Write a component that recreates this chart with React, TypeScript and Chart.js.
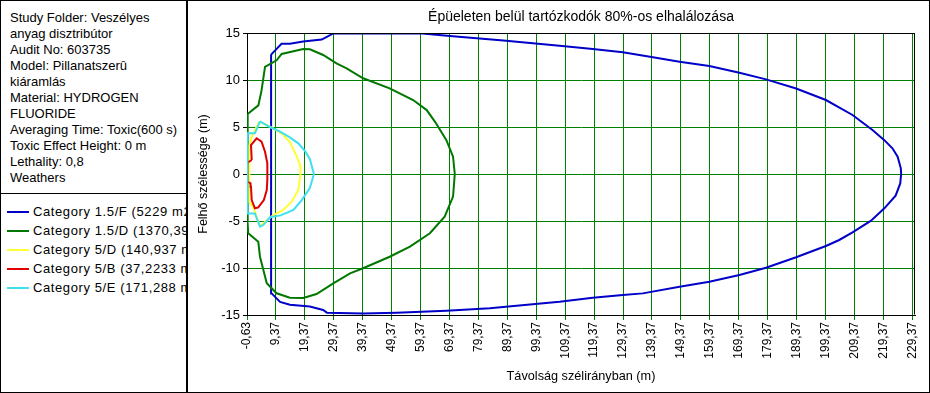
import React, { useEffect, useRef } from "react";
import { Chart, registerables } from "chart.js";

Chart.register(...registerables);

const FONT = 'Arial, "Liberation Sans", sans-serif';

const infoLines = [
  "Study Folder: Veszélyes",
  "anyag disztribútor",
  "Audit No: 603735",
  "Model: Pillanatszerû",
  "kiáramlás",
  "Material: HYDROGEN",
  "FLUORIDE",
  "Averaging Time: Toxic(600 s)",
  "Toxic Effect Height: 0 m",
  "Lethality: 0,8",
  "Weathers",
];

const chartTitle = "Épüeleten belül tartózkodók 80%-os elhalálozása";
const xTitle = "Távolság szélirányban (m)";
const yTitle = "Felhő szélessége (m)";

const seriesLabels = [
  "Category 1.5/F (5229 m2)",
  "Category 1.5/D (1370,39 m2)",
  "Category 5/D (140,937 m2)",
  "Category 5/B (37,2233 m2)",
  "Category 5/E (171,288 m2)",
];
const seriesColors = ["#0000C8", "#007800", "#FFFF33", "#E00000", "#3FE0F0"];

const xMin = -0.63;
const xMax = 230.3;
const xTickValues = [
  -0.63, 9.37, 19.37, 29.37, 39.37, 49.37, 59.37, 69.37, 79.37, 89.37, 99.37, 109.37,
  119.37, 129.37, 139.37, 149.37, 159.37, 169.37, 179.37, 189.37, 199.37, 209.37, 219.37, 229.37,
];
const yMin = -15;
const yMax = 15;

// Category 1.5/F
const cat15F: [number, number][] = [
  [7.7, 12.7], [11.3, 13.85], [14.2, 13.85], [18.8, 14.1], [25.2, 14.3], [29.2, 14.95],
  [60, 14.95], [69.5, 14.68], [88, 14.2], [107.4, 13.65], [118.9, 13.3], [129.3, 12.94],
  [139.7, 12.41], [148.9, 11.95], [159.2, 11.49], [169.6, 10.78], [178.8, 10.07],
  [189.2, 9.1], [199.5, 7.87], [208.7, 6.28], [215.6, 4.68], [219.7, 3.6], [222.5, 2.73],
  [224.3, 1.84], [225.4, 0.6], [225.5, 0], [225.2, -1.0], [223.6, -2.3], [219.7, -3.65],
  [215.1, -4.97], [208.7, -6.2], [204.1, -7.02], [199.5, -7.66], [189.2, -8.86],
  [178.8, -9.97], [169.6, -10.74], [159.2, -11.46], [148.9, -11.99], [136.2, -12.7],
  [129.3, -12.87], [118.9, -13.16], [107.4, -13.59], [83.3, -14.29], [68.3, -14.54],
  [51.1, -14.75], [39.5, -14.85], [27, -14.75], [25.7, -14.47], [21.1, -14.1],
  [14.2, -13.9], [10.8, -13.6], [7.9, -12.7], [7.7, 12.7],
];

// Category 1.5/D
const cat15D: [number, number][] = [
  [-0.3, 6.4], [3.3, 7.3], [4.4, 8.9], [5.6, 11.4], [9.6, 12.1], [11.35, 12.77],
  [18.8, 13.3], [21.1, 13.26], [25.7, 12.66], [30.3, 11.77], [33.8, 11.24], [39.5, 10.18],
  [48.7, 9.11], [56.8, 7.87], [61.5, 6.8], [64.5, 5.5], [68.3, 3.6], [70.6, 1.84],
  [71.2, 0], [70.6, -2.4], [67.7, -4.54], [62.6, -6.3], [55.7, -7.73], [48.7, -8.8],
  [39.5, -10.03], [35, -10.57], [29.2, -11.63], [23.4, -12.77], [18.8, -13.2],
  [14.2, -13.16], [9.6, -12.69], [6.2, -11.63], [3.86, -8.8], [3.27, -7.2], [-0.2, -6.3],
  [-0.5, -4.9], [-0.5, 5.0], [-0.3, 6.4],
];

// Category 5/D
const cat5D: [number, number][] = [
  [3.6, 5.57], [7.3, 5.03], [11.35, 4.33], [14.2, 3.4], [16.5, 1.9], [17.7, 1.0],
  [17.9, 0], [17.1, -1.7], [14.8, -2.95], [11.9, -3.83], [8.45, -4.36], [5.0, -5.25],
  [3.86, -5.53], [1.5, -3.5], [0.2, -3.0], [0.2, 3.0], [1.0, 3.97], [3.6, 5.57],
];

// Category 5/B
const cat5B: [number, number][] = [
  [1.0, 1.49], [0.75, 3.08], [2.7, 3.8], [4.4, 3.44], [5.6, 2.37], [6.4, 1.14],
  [6.4, -0.64], [6.2, -1.7], [5.2, -2.77], [3.27, -3.55], [2.1, -3.65], [1.0, -2.77],
  [0.75, -1.35], [0.6, -1.0], [-0.5, -0.8], [-0.5, 1.2], [1.0, 1.49],
];

// Category 5/E
const cat5E: [number, number][] = [
  [3.86, 5.6], [7.3, 5.0], [10.8, 4.5], [14.2, 3.9], [17.1, 3.26], [19.5, 2.4],
  [21.1, 1.6], [22.5, 0], [21.1, -1.5], [18.3, -2.77], [15.4, -3.83], [11.0, -4.4],
  [7.3, -4.6], [5.0, -5.43], [3.86, -5.6], [2.1, -4.2], [-0.5, -4.2], [-0.5, 4.33],
  [2.1, 4.33], [3.86, 5.6],
];

const seriesData = [cat15F, cat15D, cat5D, cat5B, cat5E];

const fmtTick = (v: number) => v.toFixed(2).replace(".", ",");

const framePlugin = {
  id: "frame",
  afterDraw(chart: any) {
    const { ctx, chartArea } = chart;
    const l = Math.round(chartArea.left) + 0.5;
    const r = Math.round(chartArea.right) - 0.5;
    const t = Math.round(chartArea.top) + 0.5;
    const b = Math.round(chartArea.bottom) - 0.5;
    ctx.save();
    ctx.strokeStyle = "#000";
    ctx.lineWidth = 1;
    ctx.beginPath();
    ctx.moveTo(l, t);
    ctx.lineTo(r, t);
    ctx.lineTo(r, b);
    ctx.stroke();
    ctx.restore();
  },
};

function ContourChart() {
  const ref = useRef<HTMLCanvasElement | null>(null);
  useEffect(() => {
    if (!ref.current) return;
    const datasets = seriesData.map((pts, i) => ({
      label: seriesLabels[i],
      data: pts.map(([x, y]) => ({ x, y })),
      borderColor: seriesColors[i],
      backgroundColor: seriesColors[i],
      borderWidth: 2,
      pointRadius: 0,
      showLine: true,
      fill: false,
      tension: 0,
      order: seriesData.length - i,
    }));
    const chart = new Chart(ref.current, {
      type: "scatter",
      data: { datasets },
      plugins: [framePlugin],
      options: {
        animation: false,
        responsive: false,
        events: [],
        layout: { padding: { left: 0, right: 15, top: 0, bottom: 0 } },
        plugins: {
          legend: { display: false },
          tooltip: { enabled: false },
          title: {
            display: true,
            text: chartTitle,
            fullSize: false,
            color: "#000",
            font: { family: FONT, size: 14, weight: "normal", lineHeight: 17 / 14 },
            padding: { top: 9, bottom: 7 },
          },
        },
        scales: {
          x: {
            type: "linear",
            min: xMin,
            max: xMax,
            afterBuildTicks: (scale: any) => {
              scale.ticks = xTickValues.map((v) => ({ value: v }));
            },
            afterFit: (scale: any) => {
              scale.height = 78;
            },
            ticks: {
              autoSkip: false,
              minRotation: 90,
              maxRotation: 90,
              padding: 2,
              color: "#000",
              font: { family: FONT, size: 12 },
              callback: (v: any) => fmtTick(Number(v)),
            },
            grid: { color: "#008000", lineWidth: 1, tickLength: 5, tickColor: "#008000" },
            border: { color: "#000", width: 1 },
            title: {
              display: true,
              text: xTitle,
              color: "#000",
              font: { family: FONT, size: 12.7 },
              padding: { top: 0, bottom: 9 },
            },
          },
          y: {
            type: "linear",
            min: yMin,
            max: yMax,
            afterFit: (scale: any) => {
              scale.width = 59;
            },
            ticks: {
              stepSize: 5,
              padding: 3,
              color: "#000",
              font: { family: FONT, size: 13 },
            },
            grid: { color: "#008000", lineWidth: 1, tickLength: 4, tickColor: "#000" },
            border: { color: "#000", width: 1 },
            title: {
              display: true,
              text: yTitle,
              color: "#000",
              font: { family: FONT, size: 12.5 },
              padding: { top: 8, bottom: 0 },
            },
          },
        },
      } as any,
    });
    return () => chart.destroy();
  }, []);
  return (
    <canvas
      ref={ref}
      width={742}
      height={393}
      style={{ position: "absolute", left: 188, top: 0, width: 742, height: 393 }}
    />
  );
}

export default function App() {
  return (
    <div
      style={{
        position: "absolute",
        left: 0,
        top: 0,
        width: 930,
        height: 393,
        background: "#fff",
        fontFamily: FONT,
        fontSize: 13,
        color: "#000",
        overflow: "hidden",
      }}
    >
      <div
        style={{
          position: "absolute",
          left: 0,
          top: 0,
          width: 188,
          height: 393,
          borderRight: "2px solid #000",
          boxSizing: "border-box",
          overflow: "hidden",
        }}
      >
        <div style={{ position: "absolute", left: 10, top: 10, lineHeight: "16px", whiteSpace: "nowrap" }}>
          {infoLines.map((l, i) => (
            <div key={i}>{l}</div>
          ))}
        </div>
        <div style={{ position: "absolute", left: 0, top: 193, width: 188, height: 1, background: "#000" }} />
        {seriesLabels.map((lab, i) => (
          <div
            key={i}
            style={{
              position: "absolute",
              left: 0,
              top: 204 + i * 19,
              height: 16,
              width: 186,
              overflow: "hidden",
              whiteSpace: "nowrap",
            }}
          >
            <div
              style={{
                position: "absolute",
                left: 7,
                top: 7,
                width: 22,
                height: 2,
                background: seriesColors[i],
              }}
            />
            <div style={{ position: "absolute", left: 33, top: 0, lineHeight: "16px", letterSpacing: "0.6px" }}>
              {lab}
            </div>
          </div>
        ))}
      </div>
      <ContourChart />
      <div
        style={{
          position: "absolute",
          left: 0,
          top: 0,
          width: 930,
          height: 393,
          border: "1px solid #000",
          boxSizing: "border-box",
          pointerEvents: "none",
        }}
      />
    </div>
  );
}
